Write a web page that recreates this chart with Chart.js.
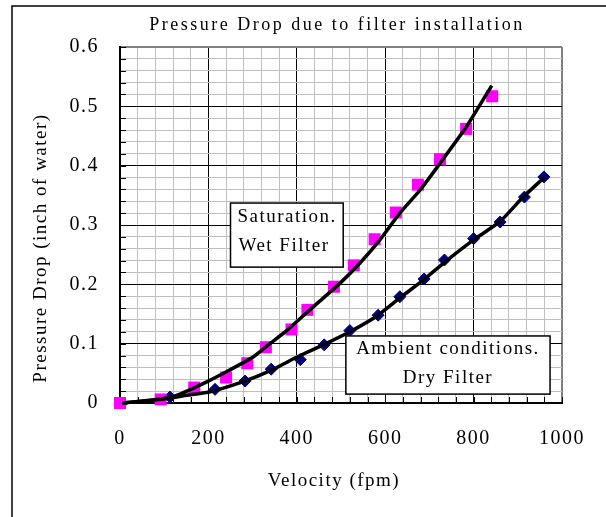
<!DOCTYPE html>
<html>
<head>
<meta charset="utf-8">
<script src="https://cdn.jsdelivr.net/npm/chart.js@4.4.0/dist/chart.umd.min.js"></script>
<style>
  html, body { margin: 0; padding: 0; background: #fff; }
</style>
</head>
<body>
<canvas id="dropChart" width="606" height="517"></canvas>
<script>
// measured points, saturation / wet filter
const wetVelocity = [0, 92, 168, 240, 288, 330, 388, 424, 484, 529, 576, 624, 674, 724, 783, 842];
const wetDrop = [0.0, 0.006, 0.026, 0.043, 0.067, 0.094, 0.124, 0.157, 0.196, 0.232, 0.276, 0.321, 0.368, 0.411, 0.462, 0.517];

// measured points, ambient / dry filter
const dryVelocity = [5, 113, 215, 283, 342, 408, 462, 520, 584, 633, 688, 734, 800, 860, 915, 959];
const dryDrop = [0.0, 0.010, 0.023, 0.037, 0.057, 0.073, 0.098, 0.122, 0.148, 0.179, 0.209, 0.241, 0.277, 0.305, 0.347, 0.381];

// black fitted curves
const wetFitVelocity = [5, 75, 128, 200, 249, 302, 339, 377, 437, 498, 543, 588, 633, 679, 724, 784, 841];
const wetFitDrop = [0.0, 0.005, 0.013, 0.037, 0.056, 0.078, 0.100, 0.122, 0.162, 0.202, 0.236, 0.275, 0.320, 0.359, 0.404, 0.466, 0.535];
const dryFitVelocity = [5, 113, 151, 204, 279, 339, 407, 460, 520, 584, 633, 686, 739, 800, 860, 912, 961];
const dryFitDrop = [0.0, 0.008, 0.013, 0.019, 0.036, 0.054, 0.080, 0.098, 0.120, 0.148, 0.177, 0.207, 0.240, 0.275, 0.306, 0.347, 0.381];

// axis ranges and labels
const xMajorStep = 200, xMinorStep = 40;
const yMajorStep = 0.1, yMinorStep = 0.02;
const chartTitle = 'Pressure Drop due to filter installation';
const xTitle = 'Velocity (fpm)';
const yTitle = 'Pressure Drop (inch of water)';
const wetBoxLines = ['Saturation.', 'Wet Filter'];
const dryBoxLines = ['Ambient conditions.', 'Dry Filter'];

const SERIF = "'Liberation Serif', 'Times New Roman', serif";

function toPoints(xs, ys) {
    return xs.map((x, i) => ({ x: x, y: ys[i] }));
}

function isMajorY(v) {
    return Math.round(v * 100) % Math.round(yMajorStep * 100) === 0;
}

// text boxes and titles, outer frame, inner tick marks
const decorPlugin = {
    id: 'decor',
    beforeDraw(chart) {
        const ctx = chart.ctx;
        ctx.fillStyle = '#fff';
        ctx.fillRect(0, 0, chart.width, chart.height);
        if ('letterSpacing' in ctx) ctx.letterSpacing = '1.5px';
    },
    beforeDatasetsDraw(chart) {
        const ctx = chart.ctx;
        const xs = chart.scales.x, ys = chart.scales.y;
        const area = chart.chartArea;
        ctx.save();
        ctx.strokeStyle = '#000';
        ctx.lineWidth = 1;
        xs.ticks.forEach(t => {
            const px = Math.round(xs.getPixelForValue(t.value)) + 0.5;
            ctx.beginPath();
            ctx.moveTo(px, area.bottom);
            ctx.lineTo(px, area.bottom - 6);
            ctx.stroke();
        });
        ys.ticks.forEach(t => {
            const py = Math.round(ys.getPixelForValue(t.value)) + 0.5;
            ctx.beginPath();
            ctx.moveTo(area.left, py);
            ctx.lineTo(area.left + 6, py);
            ctx.stroke();
        });
        ctx.restore();
    },
    afterDatasetsDraw(chart) {
        const ctx = chart.ctx;
        const xs = chart.scales.x, ys = chart.scales.y;
        ctx.save();
        ctx.font = '19px ' + SERIF;
        ctx.fillStyle = '#000';
        ctx.textBaseline = 'middle';

        // wet filter box
        let l = xs.getPixelForValue(250), t = ys.getPixelForValue(0.337);
        let r = xs.getPixelForValue(505), b = ys.getPixelForValue(0.229);
        ctx.fillStyle = '#fff';
        ctx.fillRect(l, t, r - l, b - t);
        ctx.strokeStyle = '#000';
        ctx.lineWidth = 1.5;
        ctx.strokeRect(l, t, r - l, b - t);
        ctx.fillStyle = '#000';
        ctx.textAlign = 'left';
        ctx.fillText(wetBoxLines[0], l + 7, t + 14);
        ctx.fillText(wetBoxLines[1], l + 8, t + 43);

        // dry filter box
        l = xs.getPixelForValue(511); t = ys.getPixelForValue(0.113);
        r = xs.getPixelForValue(973); b = ys.getPixelForValue(0.015);
        ctx.fillStyle = '#fff';
        ctx.fillRect(l, t, r - l, b - t);
        ctx.strokeRect(l, t, r - l, b - t);
        ctx.fillStyle = '#000';
        ctx.textAlign = 'center';
        ctx.fillText(dryBoxLines[0], (l + r) / 2, t + 13);
        ctx.fillText(dryBoxLines[1], (l + r) / 2, t + 42);
        ctx.restore();
    },
    afterDraw(chart) {
        const ctx = chart.ctx;
        ctx.save();
        // outer frame (only left and top edges show in the picture)
        ctx.strokeStyle = '#000';
        ctx.lineWidth = 1.5;
        ctx.beginPath();
        ctx.moveTo(12, chart.height + 2);
        ctx.lineTo(12, 6);
        ctx.lineTo(chart.width + 2, 6);
        ctx.stroke();

        ctx.fillStyle = '#000';
        ctx.textAlign = 'center';
        ctx.textBaseline = 'middle';
        if ('letterSpacing' in ctx) ctx.letterSpacing = '2.5px';
        ctx.font = '18px ' + SERIF;
        ctx.fillText(chartTitle, 337, 25);

        if ('letterSpacing' in ctx) ctx.letterSpacing = '1.5px';
        ctx.font = '19px ' + SERIF;
        ctx.fillText(xTitle, 334, 481);

        ctx.translate(41, 248);
        ctx.rotate(-Math.PI / 2);
        ctx.fillText(yTitle, 0, 0);
        ctx.restore();
        if ('letterSpacing' in ctx) ctx.letterSpacing = '0px';
    }
};

function renderDropChart() {
    const ctx = document.getElementById('dropChart').getContext('2d');

    new Chart(ctx, {
        type: 'scatter',
        data: {
            datasets: [{
                type: 'line',
                label: 'Wet fit',
                data: toPoints(wetFitVelocity, wetFitDrop),
                borderColor: '#000',
                borderWidth: 3.5,
                pointRadius: 0,
                tension: 0.2,
                fill: false,
                clip: false
            }, {
                type: 'line',
                label: 'Dry fit',
                data: toPoints(dryFitVelocity, dryFitDrop),
                borderColor: '#000',
                borderWidth: 3.5,
                pointRadius: 0,
                tension: 0.2,
                fill: false,
                clip: false
            }, {
                label: 'Saturation. Wet Filter',
                data: toPoints(wetVelocity, wetDrop),
                pointStyle: 'rect',
                pointRadius: 8.5,
                backgroundColor: '#ff00ff',
                borderColor: '#ff00ff',
                borderWidth: 0,
                clip: false
            }, {
                label: 'Ambient conditions. Dry Filter',
                data: toPoints(dryVelocity, dryDrop),
                pointStyle: 'rectRot',
                pointRadius: 6,
                backgroundColor: '#000080',
                borderColor: '#000080',
                borderWidth: 1,
                clip: false
            }]
        },
        options: {
            responsive: false,
            animation: false,
            layout: { padding: { left: 0, right: 44, top: 47, bottom: 0 } },
            plugins: {
                legend: { display: false },
                tooltip: { enabled: false }
            },
            scales: {
                x: {
                    type: 'linear',
                    min: 0,
                    max: 1000,
                    afterFit: s => { s.height = 114; },
                    ticks: {
                        stepSize: xMinorStep,
                        autoSkip: false,
                        maxRotation: 0,
                        padding: 24,
                        color: '#000',
                        font: { family: SERIF, size: 20 },
                        callback: v => (v % xMajorStep === 0 ? String(v) : '')
                    },
                    grid: {
                        drawTicks: false,
                        color: c => c.tick.value === 1000 ? '#808080' : (c.tick.value % xMajorStep === 0 ? '#000' : '#c0c0c0'),
                        lineWidth: c => c.tick.value === 1000 ? 2 : 1
                    },
                    border: { color: '#000', width: 2 }
                },
                y: {
                    type: 'linear',
                    min: 0,
                    max: 0.6,
                    afterFit: s => { s.width = 120; },
                    ticks: {
                        stepSize: yMinorStep,
                        autoSkip: false,
                        padding: 21,
                        color: '#000',
                        font: { family: SERIF, size: 20 },
                        callback: v => (isMajorY(v) ? String(Math.round(v * 10) / 10) : '')
                    },
                    grid: {
                        drawTicks: false,
                        color: c => Math.round(c.tick.value * 100) === 60 ? '#808080' : (isMajorY(c.tick.value) ? '#000' : '#c0c0c0'),
                        lineWidth: c => Math.round(c.tick.value * 100) === 60 ? 2 : 1
                    },
                    border: { color: '#000', width: 2 }
                }
            }
        },
        plugins: [decorPlugin]
    });
}

document.addEventListener('DOMContentLoaded', renderDropChart);
</script>
</body>
</html>
